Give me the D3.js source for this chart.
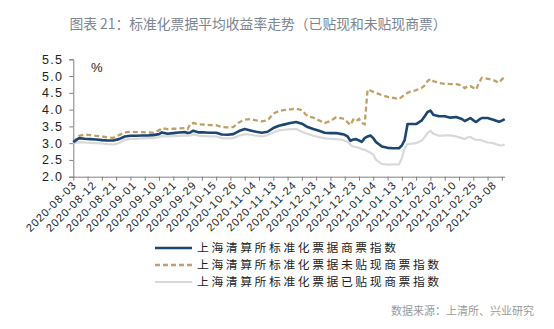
<!DOCTYPE html>
<html>
<head>
<meta charset="utf-8">
<script src="https://cdn.jsdelivr.net/npm/d3@7"></script>
<style>
  html, body { margin: 0; padding: 0; background: #fff; }
  svg { display: block; }
</style>
</head>
<body>
<svg id="chart" width="554" height="329"></svg>
<script>
// Trading-day position of each sample (0 = 2020-08-03)
const dayIndex = [0,2,4,6,8,10,12,14,16,18,20,22,24,26,28,30,31,33,35,37,39,40,41,42,44,46,48,50,52,54,56,58,60,62,64,66,68,70,72,74,76,78,80,82,84,86,88,90,92,94,95,96,97,98,99,100,101,102,103,104,105,106,108,110,112,114,115,116,117,118,120,122,123,124,125,126,128,130,132,134,136,137,138,139,140,141,142,143,145,147,149,150,151];

// 上海清算所标准化票据商票指数 (%)
const commercialIdx = [3.03,3.15,3.13,3.12,3.11,3.09,3.08,3.08,3.12,3.20,3.22,3.22,3.23,3.23,3.24,3.27,3.32,3.28,3.30,3.32,3.33,3.30,3.32,3.37,3.32,3.32,3.31,3.31,3.26,3.25,3.27,3.36,3.42,3.38,3.34,3.31,3.34,3.45,3.52,3.56,3.60,3.63,3.58,3.48,3.42,3.37,3.31,3.30,3.30,3.27,3.25,3.20,3.07,3.11,3.12,3.08,3.04,3.15,3.20,3.23,3.15,3.03,2.90,2.86,2.85,2.85,2.93,3.10,3.57,3.57,3.57,3.68,3.80,3.93,3.97,3.85,3.80,3.80,3.76,3.78,3.72,3.66,3.70,3.75,3.68,3.63,3.70,3.75,3.75,3.70,3.64,3.67,3.72];

// 上海清算所标准化票据未贴现商票指数 (%)
const undiscountedIdx = [3.03,3.22,3.26,3.24,3.22,3.20,3.17,3.16,3.24,3.32,3.34,3.33,3.33,3.32,3.31,3.38,3.45,3.42,3.43,3.44,3.45,3.42,3.58,3.60,3.56,3.55,3.54,3.54,3.48,3.47,3.48,3.62,3.70,3.72,3.68,3.65,3.68,3.88,3.96,3.99,4.01,4.03,3.98,3.80,3.76,3.68,3.60,3.66,3.77,3.74,3.72,3.62,3.54,3.70,3.65,3.72,3.60,3.56,4.60,4.57,4.53,4.50,4.43,4.38,4.35,4.32,4.38,4.45,4.50,4.54,4.58,4.65,4.72,4.85,4.92,4.85,4.79,4.77,4.76,4.76,4.72,4.64,4.70,4.70,4.65,4.60,4.80,4.95,4.92,4.88,4.80,4.90,4.97];

// 上海清算所标准化票据已贴现商票指数 (%)
const discountedIdx = [3.00,3.03,3.02,3.01,3.00,2.99,2.97,2.96,3.00,3.10,3.13,3.13,3.14,3.15,3.15,3.18,3.21,3.20,3.21,3.22,3.23,3.22,3.23,3.26,3.22,3.21,3.20,3.20,3.15,3.14,3.15,3.22,3.27,3.25,3.22,3.20,3.24,3.32,3.38,3.40,3.42,3.42,3.34,3.28,3.22,3.18,3.14,3.13,3.12,3.10,3.07,3.04,2.95,2.90,2.88,2.86,2.82,2.80,2.76,2.72,2.66,2.50,2.38,2.36,2.37,2.37,2.55,2.85,2.97,2.98,3.00,3.08,3.18,3.30,3.37,3.28,3.22,3.23,3.23,3.20,3.15,3.12,3.17,3.19,3.13,3.10,3.10,3.08,3.02,3.00,2.94,2.93,2.96];

// Category labels, one every 7 trading days
const dateLabels = ["2020-08-03","2020-08-12","2020-08-21","2020-09-01","2020-09-10","2020-09-21","2020-09-29","2020-10-15","2020-10-26","2020-11-04","2020-11-13","2020-11-24","2020-12-03","2020-12-14","2020-12-23","2021-01-04","2021-01-13","2021-01-22","2021-02-02","2021-02-10","2021-02-25","2021-03-08"];
const yTicks = [2.0,2.5,3.0,3.5,4.0,4.5,5.0,5.5];
const seriesNames = ["上海清算所标准化票据商票指数","上海清算所标准化票据未贴现商票指数","上海清算所标准化票据已贴现商票指数"];

const svg = d3.select("#chart");
const plotLeft = 73.3, plotRight = 504.7, plotTop = 59.3, plotBottom = 176.7;

const x = d3.scaleLinear().domain([0, 151]).range([plotLeft, plotRight]);
const y = d3.scaleLinear().domain([2, 5.5]).range([plotBottom, plotTop]);

// Title
svg.append("text")
  .attr("x", 258).attr("y", 29)
  .attr("text-anchor", "middle")
  .attr("font-family", "'Noto Sans CJK SC', sans-serif")
  .attr("font-size", 13.8)
  .attr("fill", "#7b8594")
  .text("图表 21：标准化票据平均收益率走势（已贴现和未贴现商票）");

// Y axis
const yAxis = svg.append("g")
  .attr("transform", `translate(${plotLeft},0)`)
  .call(d3.axisLeft(y).tickValues(yTicks).tickFormat(d3.format(".1f")).tickSize(4).tickPadding(6));
yAxis.select(".domain").attr("stroke", "#808080");
yAxis.selectAll(".tick line").attr("stroke", "#808080");
yAxis.selectAll("text")
  .attr("font-family", "'Liberation Sans', Arial, sans-serif")
  .attr("font-size", 12.5)
  .attr("letter-spacing", "1.3px")
  .attr("fill", "#222");

// Unit
svg.append("text")
  .attr("x", 91).attr("y", 72)
  .attr("font-family", "'Liberation Sans', Arial, sans-serif")
  .attr("font-size", 13)
  .attr("fill", "#222")
  .text("%");

// X axis: tick marks every 5 trading days
const xTickVals = d3.range(0, 151, 5);
const xAxis = svg.append("g")
  .attr("transform", `translate(0,${plotBottom})`)
  .call(d3.axisBottom(x).tickValues(xTickVals).tickFormat("").tickSize(4).tickSizeOuter(0));
xAxis.select(".domain").attr("stroke", "#808080");
xAxis.selectAll(".tick line").attr("stroke", "#808080");

// Rotated date labels
svg.append("g").selectAll("text")
  .data(dateLabels)
  .join("text")
  .attr("transform", (d, i) => `translate(${x(i * 7) + 4},${plotBottom + 9}) rotate(-45)`)
  .attr("text-anchor", "end")
  .attr("font-family", "'Liberation Sans', Arial, sans-serif")
  .attr("font-size", 11)
  .attr("letter-spacing", "1px")
  .attr("fill", "#222")
  .text(d => d);

// Lines
const makeLine = vals => d3.line()
  .x((d, i) => x(dayIndex[i]))
  .y(d => y(d))(vals);

svg.append("path").attr("d", makeLine(discountedIdx))
  .attr("fill", "none").attr("stroke", "#d9d9d9").attr("stroke-width", 2.2).attr("stroke-linejoin", "round");
svg.append("path").attr("d", makeLine(undiscountedIdx))
  .attr("fill", "none").attr("stroke", "#c0a068").attr("stroke-width", 2.3).attr("stroke-dasharray", "5,3");
svg.append("path").attr("d", makeLine(commercialIdx))
  .attr("fill", "none").attr("stroke", "#1c4672").attr("stroke-width", 2.6).attr("stroke-linejoin", "round");

// Legend
const legendStyles = [
  { color: "#1c4672", dash: null, width: 2.6 },
  { color: "#c0a068", dash: "5,3", width: 2.3 },
  { color: "#d9d9d9", dash: null, width: 2.2 }
];
const legend = svg.append("g");
seriesNames.forEach((name, i) => {
  const ly = 248 + i * 17;
  legend.append("line")
    .attr("x1", 155).attr("x2", 192).attr("y1", ly).attr("y2", ly)
    .attr("stroke", legendStyles[i].color)
    .attr("stroke-width", legendStyles[i].width)
    .attr("stroke-dasharray", legendStyles[i].dash);
  legend.append("text")
    .attr("x", 197).attr("y", ly + 4.3)
    .attr("font-family", "'Noto Sans CJK SC', sans-serif")
    .attr("font-size", 11.8)
    .attr("letter-spacing", "2.6px")
    .attr("fill", "#222")
    .text(name);
});

// Source note
svg.append("text")
  .attr("x", 534).attr("y", 315)
  .attr("text-anchor", "end")
  .attr("font-family", "'Noto Sans CJK SC', sans-serif")
  .attr("font-size", 11)
  .attr("fill", "#9a9a9a")
  .text("数据来源：上清所、兴业研究");
</script>
</body>
</html>
